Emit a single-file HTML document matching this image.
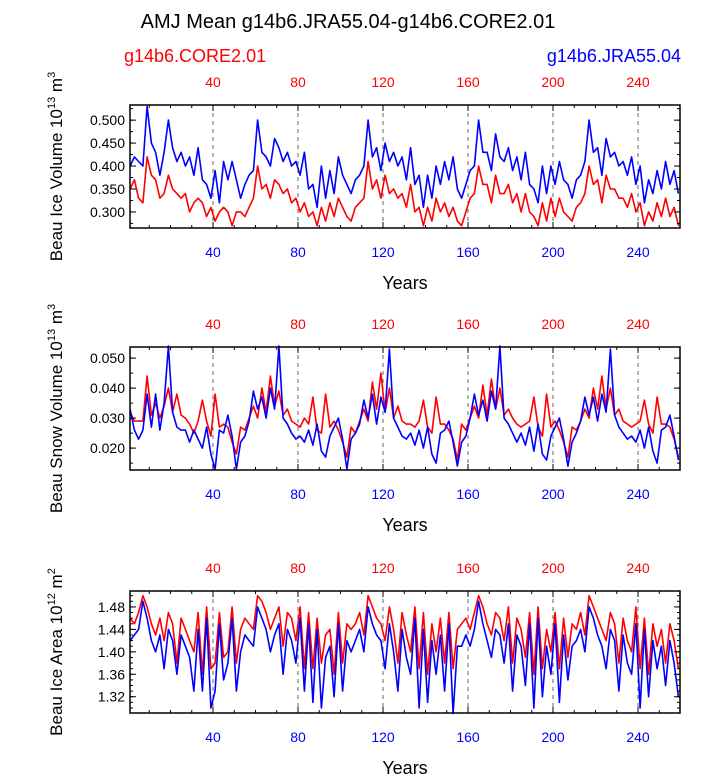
<!DOCTYPE html>
<html><head><meta charset="utf-8"><style>
body{margin:0;background:#fff;width:723px;height:775px;overflow:hidden}
svg{font-family:"Liberation Sans",sans-serif}
</style></head><body>
<svg id="chart" width="723" height="775"></svg>
<script>
const years=[];for(let y=1;y<=259;y+=2)years.push(y);
const xTicks=[40,80,120,160,200,240];
const iceBlue=[.40,.42,.41,.40,.53,.45,.43,.38,.43,.50,.44,.41,.43,.40,.42,.38,.44,.37,.36,.33,.39,.32,.41,.37,.41,.37,
.33,.36,.38,.39,.50,.43,.42,.40,.46,.44,.41,.43,.40,.41,.38,.43,.35,.36,.31,.40,.33,.39,.34,.42,.38,.36,
.34,.37,.38,.40,.50,.42,.44,.39,.45,.41,.43,.40,.42,.37,.44,.36,.38,.31,.38,.33,.40,.36,.41,.37,.42,.35,
.33,.36,.39,.40,.50,.43,.43,.39,.47,.42,.41,.44,.39,.42,.37,.43,.36,.35,.32,.40,.34,.40,.36,.41,.37,.36,
.33,.37,.38,.41,.50,.43,.44,.38,.46,.42,.43,.40,.41,.38,.42,.36,.40,.32,.37,.34,.39,.35,.41,.36,.39,.34];
const iceRed=[.35,.37,.33,.32,.42,.38,.37,.33,.34,.38,.35,.34,.33,.34,.30,.32,.33,.32,.29,.31,.28,.30,.31,.30,.27,.30,
.30,.29,.31,.33,.40,.35,.36,.33,.37,.36,.34,.35,.32,.33,.30,.32,.29,.30,.27,.31,.28,.32,.29,.33,.31,.29,
.28,.31,.32,.33,.41,.35,.37,.33,.38,.34,.35,.33,.34,.31,.36,.30,.31,.27,.31,.28,.33,.30,.32,.29,.31,.28,
.27,.30,.33,.34,.40,.36,.36,.32,.38,.34,.34,.36,.32,.34,.30,.34,.30,.29,.27,.32,.28,.33,.29,.33,.30,.29,
.28,.31,.32,.34,.40,.36,.37,.32,.38,.35,.35,.33,.33,.31,.34,.30,.32,.27,.30,.28,.32,.29,.33,.29,.31,.27];
const snowBlue=[.033,.026,.023,.026,.038,.027,.038,.026,.035,.054,.032,.027,.026,.026,.022,.026,.023,.020,.027,.018,.013,.026,.025,.031,.024,.013,
.022,.024,.029,.039,.033,.037,.030,.040,.033,.054,.030,.028,.025,.023,.024,.022,.026,.021,.028,.019,.017,.024,.027,.030,.023,.013,
.023,.025,.028,.036,.030,.038,.028,.037,.032,.053,.030,.027,.024,.023,.025,.021,.026,.020,.027,.018,.015,.025,.026,.029,.022,.014,
.022,.024,.030,.038,.031,.036,.029,.039,.033,.054,.030,.028,.025,.022,.025,.021,.027,.019,.028,.018,.016,.024,.027,.030,.023,.014,
.022,.025,.029,.037,.031,.037,.029,.038,.032,.053,.031,.027,.025,.023,.024,.022,.026,.020,.027,.019,.015,.026,.027,.031,.024,.016];
const snowRed=[.032,.029,.029,.029,.044,.031,.035,.030,.034,.040,.032,.038,.031,.030,.028,.025,.029,.036,.029,.024,.038,.027,.028,.027,.022,.018,
.027,.026,.030,.034,.030,.040,.032,.044,.034,.039,.031,.033,.029,.028,.027,.030,.028,.037,.026,.025,.038,.027,.029,.026,.022,.017,
.027,.025,.029,.033,.029,.042,.033,.045,.032,.040,.030,.034,.029,.028,.028,.027,.029,.036,.027,.025,.037,.028,.028,.026,.023,.016,
.028,.026,.030,.034,.030,.041,.031,.043,.033,.040,.031,.033,.030,.028,.027,.028,.029,.037,.027,.024,.038,.027,.029,.026,.022,.017,
.027,.026,.029,.033,.030,.040,.033,.044,.033,.040,.031,.033,.029,.028,.027,.028,.029,.036,.028,.025,.037,.028,.028,.027,.023,.017];
const areaRed=[1.46,1.45,1.47,1.50,1.48,1.45,1.43,1.46,1.42,1.47,1.45,1.38,1.46,1.44,1.42,1.40,1.47,1.36,1.48,1.37,1.38,1.47,1.39,1.40,1.48,1.38,
1.44,1.46,1.45,1.44,1.50,1.49,1.47,1.44,1.46,1.48,1.41,1.47,1.46,1.42,1.48,1.37,1.47,1.37,1.46,1.38,1.43,1.44,1.36,1.47,1.38,1.45,
1.44,1.45,1.47,1.43,1.50,1.48,1.46,1.45,1.42,1.48,1.44,1.38,1.47,1.43,1.40,1.48,1.37,1.47,1.36,1.45,1.40,1.46,1.38,1.47,1.37,1.44,
1.45,1.46,1.44,1.47,1.50,1.48,1.45,1.43,1.47,1.46,1.42,1.48,1.38,1.46,1.44,1.39,1.47,1.36,1.48,1.37,1.44,1.40,1.47,1.37,1.46,1.39,
1.45,1.44,1.47,1.43,1.50,1.48,1.46,1.44,1.42,1.47,1.45,1.38,1.46,1.42,1.40,1.48,1.37,1.46,1.36,1.45,1.41,1.44,1.38,1.45,1.42,1.37];
const areaBlue=[1.42,1.43,1.44,1.49,1.46,1.42,1.40,1.43,1.37,1.44,1.42,1.36,1.43,1.41,1.39,1.33,1.44,1.33,1.46,1.30,1.33,1.45,1.35,1.38,1.46,1.33,
1.40,1.43,1.42,1.41,1.48,1.46,1.44,1.40,1.43,1.45,1.36,1.44,1.42,1.38,1.46,1.33,1.45,1.31,1.44,1.30,1.39,1.41,1.32,1.45,1.33,1.42,
1.40,1.42,1.44,1.40,1.48,1.45,1.43,1.42,1.37,1.45,1.40,1.33,1.44,1.39,1.36,1.46,1.30,1.44,1.31,1.42,1.36,1.43,1.33,1.45,1.29,1.41,
1.41,1.43,1.41,1.44,1.49,1.45,1.42,1.39,1.44,1.43,1.38,1.45,1.33,1.43,1.41,1.34,1.45,1.30,1.46,1.32,1.41,1.36,1.45,1.31,1.43,1.35,
1.41,1.42,1.44,1.40,1.48,1.46,1.43,1.41,1.37,1.44,1.42,1.33,1.43,1.38,1.36,1.45,1.30,1.44,1.32,1.42,1.37,1.41,1.34,1.42,1.38,1.32];
const iceTicks=[0.300,0.350,0.400,0.450,0.500];
const snowTicks=[0.020,0.030,0.040,0.050];
const areaTicks=[1.32,1.36,1.40,1.44,1.48];

const NS='http://www.w3.org/2000/svg';
const svg=document.getElementById('chart');
function mk(tag,at,parent){const e=document.createElementNS(NS,tag);for(const k in at)e.setAttribute(k,at[k]);(parent||svg).appendChild(e);return e;}
function txt(s,at,name){const e=mk('text',at);e.textContent=s;


return e;}
const X0=130,X1=680;
function xs(yr){return 128+2.125*yr;}

txt('AMJ Mean g14b6.JRA55.04-g14b6.CORE2.01',{x:348,y:28,'font-size':20,'text-anchor':'middle'},'chart-title');
txt('g14b6.CORE2.01',{x:124,y:62,'font-size':18,fill:'#f00'},'legend-core');
txt('g14b6.JRA55.04',{x:681,y:62,'font-size':18,fill:'#00f','text-anchor':'end'},'legend-jra');

function panel(p){
  const {top,bot,vmin,vmax,ticks,minor,fmt,blue,red,ylab,sup,unitSup,name}=p;
  const ys=v=>bot-(v-vmin)/(vmax-vmin)*(bot-top);
  const g=mk('g',{});
  
  
  xTicks.forEach(t=>{const l=mk('line',{x1:xs(t),x2:xs(t),y1:top,y2:bot,stroke:'#666','stroke-width':1,'stroke-dasharray':'4,4'},g);
    
    });
  const line=(arr,col,nm)=>{const pts=arr.map((v,i)=>xs(years[i]).toFixed(1)+','+ys(v).toFixed(1)).join(' ');
    const pl=mk('polyline',{points:pts,fill:'none',stroke:col,'stroke-width':1.6,'stroke-linejoin':'round'},g);
    
    };
  line(red,'#f00',name+'-core-line');
  line(blue,'#00f',name+'-jra-line');
  const fr=mk('rect',{x:X0,y:top,width:X1-X0,height:bot-top,fill:'none',stroke:'#000','stroke-width':1.5},g);
  
  
  for(let t=10;t<260;t+=10){const L=t%40===0?6:3;
    mk('line',{x1:xs(t),x2:xs(t),y1:bot,y2:bot-L,stroke:'#000'},g);
    mk('line',{x1:xs(t),x2:xs(t),y1:top,y2:top+L,stroke:'#000'},g);}
  for(let v=Math.ceil(vmin/minor)*minor;v<=vmax;v+=minor){mk('line',{x1:X0,x2:X0+3,y1:ys(v),y2:ys(v),stroke:'#000'},g);
    mk('line',{x1:X1,x2:X1-3,y1:ys(v),y2:ys(v),stroke:'#000'},g);}
  ticks.forEach(v=>{mk('line',{x1:X0,x2:X0+6,y1:ys(v),y2:ys(v),stroke:'#000'},g);
    mk('line',{x1:X1,x2:X1-6,y1:ys(v),y2:ys(v),stroke:'#000'},g);
    txt(v.toFixed(fmt),{x:X0-5,y:ys(v)+5,'font-size':14,'text-anchor':'end'},'y-tick-label');});
  xTicks.forEach(t=>{txt(String(t),{x:xs(t),y:top-18,'font-size':14,'text-anchor':'middle',fill:'#f00'},'top-x-tick-label');
    txt(String(t),{x:xs(t),y:bot+29,'font-size':14,'text-anchor':'middle',fill:'#00f'},'bottom-x-tick-label');});
  txt('Years',{x:405,y:bot+61,'font-size':18,'text-anchor':'middle'},'x-axis-title');
  const cy=(top+bot)/2;
  const t=txt('',{x:0,y:0,'font-size':17,transform:`translate(62,${cy}) rotate(-90)`,'text-anchor':'middle'},'y-axis-title');
  t.appendChild(document.createTextNode(ylab+' 10'));
  const s1=mk('tspan',{dy:-7,'font-size':11},t);s1.textContent=sup;
  const s2=mk('tspan',{dy:7},t);s2.textContent=' m';
  const s3=mk('tspan',{dy:-7,'font-size':11},t);s3.textContent=unitSup;
}
panel({top:105,bot:228,vmin:0.265,vmax:0.533,ticks:iceTicks,minor:0.025,fmt:3,blue:iceBlue,red:iceRed,ylab:'Beau Ice Volume',sup:'13',unitSup:'3',name:'ice-volume-panel'});
panel({top:347,bot:470,vmin:0.0127,vmax:0.0537,ticks:snowTicks,minor:0.005,fmt:3,blue:snowBlue,red:snowRed,ylab:'Beau Snow Volume',sup:'13',unitSup:'3',name:'snow-volume-panel'});
panel({top:591,bot:713,vmin:1.291,vmax:1.5084,ticks:areaTicks,minor:0.01,fmt:2,blue:areaBlue,red:areaRed,ylab:'Beau Ice Area',sup:'12',unitSup:'2',name:'ice-area-panel'});
</script>
</body></html>
